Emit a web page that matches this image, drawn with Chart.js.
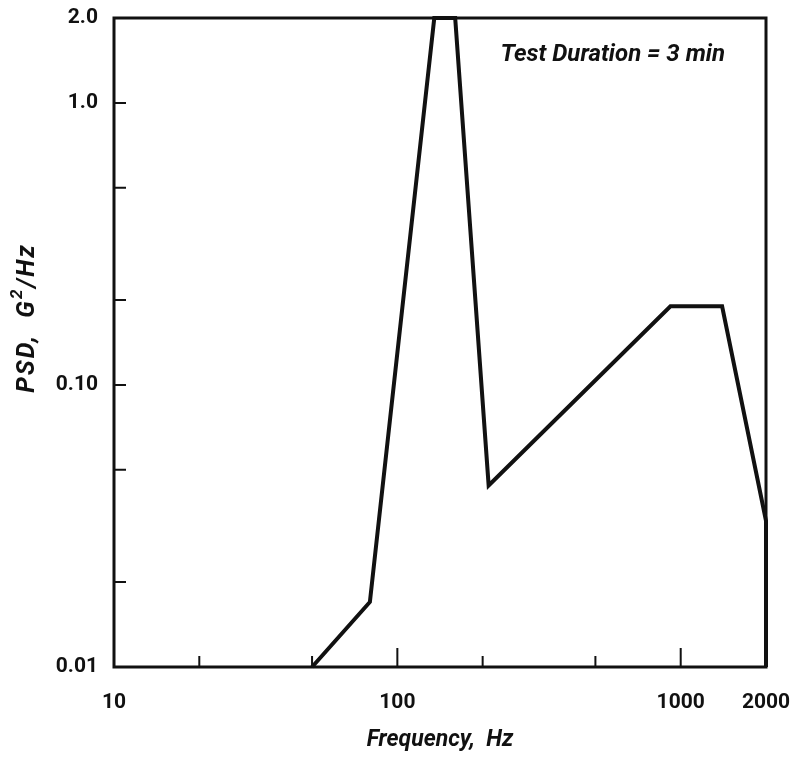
<!DOCTYPE html>
<html>
<head>
<meta charset="utf-8">
<script src="https://cdn.jsdelivr.net/npm/chart.js@4"></script>
<style>
  html, body { margin: 0; padding: 0; background: #fff; }
  canvas { display: block; }
</style>
</head>
<body>
<canvas id="psd-chart" width="798" height="758"></canvas>
<script>
// values (log-log)
var freqHz = [50, 80, 135, 160, 210, 920, 1400, 2000, 2000];
var psdG2Hz = [0.01, 0.017, 2.0, 2.0, 0.044, 0.19, 0.19, 0.033, 0.01];

var xTickValues = [10, 100, 1000, 2000];
var xTickLabels = ['10', '100', '1000', '2000'];
var xMajorMarks = [100, 1000];
var xMinorMarks = [20, 50, 200, 500];

var yTickValues = [0.01, 0.1, 1.0, 2.0];
var yTickLabels = ['0.01', '0.10', '1.0', '2.0'];
var yMarks = [0.02, 0.05, 0.1, 0.2, 0.5, 1.0];

var noteText = 'Test Duration = 3 min';

var ink = '#111';
var labelFont = { family: 'Roboto', size: 21, weight: 'bold' };

// frame, inward tick marks, y title with superscript, note
var framePlugin = {
  id: 'framePlugin',
  afterDraw: function(chart) {
    var ctx = chart.ctx;
    var a = chart.chartArea;
    var xs = chart.scales.x, ys = chart.scales.y;
    ctx.save();
    ctx.strokeStyle = ink;
    ctx.lineWidth = 3;
    ctx.strokeRect(a.left, a.top, a.right - a.left, a.bottom - a.top);

    ctx.lineWidth = 2;
    ctx.beginPath();
    xMajorMarks.forEach(function(v) {
      var px = xs.getPixelForValue(v);
      ctx.moveTo(px, a.bottom);
      ctx.lineTo(px, a.bottom - 19);
    });
    xMinorMarks.forEach(function(v) {
      var px = xs.getPixelForValue(v);
      ctx.moveTo(px, a.bottom);
      ctx.lineTo(px, a.bottom - 11);
    });
    yMarks.forEach(function(v) {
      var py = ys.getPixelForValue(v);
      ctx.moveTo(a.left, py);
      ctx.lineTo(a.left + 12, py);
    });
    ctx.stroke();

    // y axis title
    ctx.fillStyle = ink;
    ctx.translate(28, 318);
    ctx.rotate(-Math.PI / 2);
    ctx.textBaseline = 'middle';
    ctx.letterSpacing = '2px';
    var big = 'italic bold 25px Roboto';
    var small = 'italic bold 17px Roboto';
    var parts = [['PSD,  G', big, 0], ['2', small, -10], ['/Hz', big, 0]];
    var total = 0;
    parts.forEach(function(p) { ctx.font = p[1]; total += ctx.measureText(p[0]).width; });
    var x0 = -total / 2;
    parts.forEach(function(p) {
      ctx.font = p[1];
      ctx.textAlign = 'left';
      ctx.fillText(p[0], x0, p[2]);
      x0 += ctx.measureText(p[0]).width;
    });
    ctx.restore();

    ctx.save();
    ctx.fillStyle = ink;
    ctx.font = 'italic bold 24px Roboto';
    ctx.textAlign = 'right';
    ctx.textBaseline = 'middle';
    ctx.fillText(noteText, a.right - 41, a.top + 37);
    ctx.restore();
  }
};

var ctx = document.getElementById('psd-chart');

var psdChart = new Chart(ctx, {
  type: 'line',
  data: {
    labels: freqHz,
    datasets: [{
      data: freqHz.map(function(f, i) { return { x: f, y: psdG2Hz[i] }; }),
      borderColor: ink,
      borderWidth: 4,
      pointRadius: 0,
      tension: 0,
      fill: false,
      clip: false
    }]
  },
  options: {
    responsive: false,
    animation: false,
    devicePixelRatio: 1,
    layout: { padding: { left: 0, right: 32, top: 18, bottom: 0 } },
    plugins: {
      legend: { display: false },
      tooltip: { enabled: false }
    },
    scales: {
      x: {
        type: 'logarithmic',
        min: 10,
        max: 2000,
        grid: { display: false, drawTicks: false },
        border: { display: false },
        afterBuildTicks: function(scale) {
          scale.ticks = xTickValues.map(function(v) { return { value: v }; });
        },
        afterFit: function(scale) {
          scale.height = 91;
          scale.paddingLeft = 0;
          scale.paddingRight = 0;
        },
        ticks: {
          autoSkip: false,
          maxRotation: 0,
          padding: 23,
          color: ink,
          font: labelFont,
          callback: function(value) {
            var i = xTickValues.indexOf(value);
            return i >= 0 ? xTickLabels[i] : '';
          }
        },
        title: {
          display: true,
          text: 'Frequency,  Hz',
          color: ink,
          font: { family: 'Roboto', size: 23, weight: 'bold', style: 'italic' },
          padding: { top: 0, bottom: 4 }
        }
      },
      y: {
        type: 'logarithmic',
        min: 0.01,
        max: 2.0,
        grid: { display: false, drawTicks: false },
        border: { display: false },
        afterBuildTicks: function(scale) {
          scale.ticks = yTickValues.map(function(v) { return { value: v }; });
        },
        afterFit: function(scale) {
          scale.width = 114;
          scale.paddingTop = 0;
          scale.paddingBottom = 0;
        },
        ticks: {
          autoSkip: false,
          padding: 16,
          color: ink,
          font: labelFont,
          callback: function(value) {
            for (var i = 0; i < yTickValues.length; i++) {
              if (Math.abs(yTickValues[i] - value) < 1e-9) return yTickLabels[i];
            }
            return '';
          }
        }
      }
    }
  },
  plugins: [framePlugin]
});
</script>
</body>
</html>
